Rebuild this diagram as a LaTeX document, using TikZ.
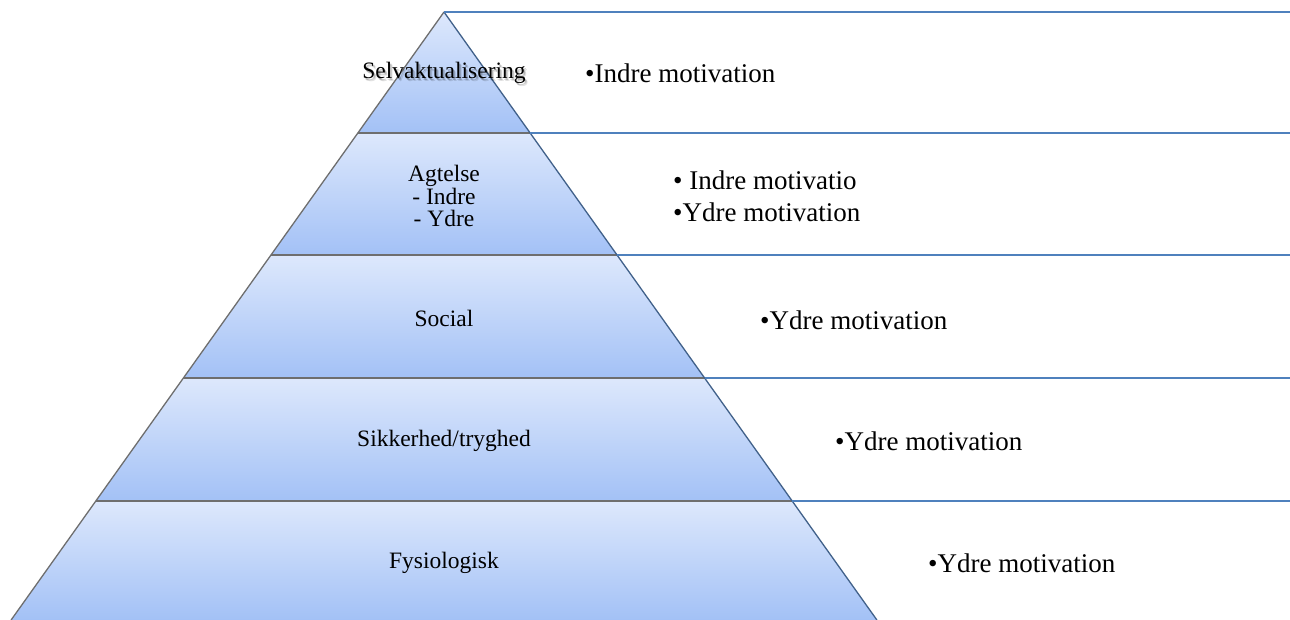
\documentclass[tikz,border=0pt]{standalone}
\usepackage{fontspec}
\setmainfont{Liberation Serif}
\usetikzlibrary{positioning}
\definecolor{layertop}{HTML}{DDE8FC}
\definecolor{layerbot}{HTML}{A3C1F6}
\definecolor{rulecol}{HTML}{4F81BD}
\definecolor{edgecol}{HTML}{6E6E6E}
\definecolor{rightcol}{HTML}{41618A}

\begin{document}
\begin{tikzpicture}[x=1pt,y=-1pt]
        \useasboundingbox (0,0) rectangle (1290,620);
        \foreach \y [count=\i from 0] in {12,133,255,378,501,620}{
          \coordinate (l\i) at ({444-0.712*(\y-12)},\y);
          \coordinate (r\i) at ({444+0.712*(\y-12)},\y);
          \coordinate (e\i) at (1290,\y);
        }
        \foreach \i [evaluate=\i as \j using int(\i+1)] in {0,...,4}
          \shade[top color=layertop,bottom color=layerbot] (l\i) -- (r\i) -- (r\j) -- (l\j) -- cycle;
        \foreach \i in {1,...,4}
          \draw [edgecol, line width=2pt] (l\i) -- (r\i);
        \draw [edgecol, line width=1.3pt] (l5) -- (l0);
        \draw [rightcol, line width=1.3pt] (r0) -- (r5);
        \foreach \i in {0,...,4}
          \draw [rulecol, line width=2pt] (r\i) -- (e\i);
        \begin{scope}[every node/.style={font=\fontsize{23.5}{22.5}\selectfont,align=center}]
        \node [black, opacity=0.12] at (446.5,75.5) {Selvaktualisering};
        \node [black, opacity=0.2] at (445.5,74.5) {Selvaktualisering};
        \node (s5) at (444,73) {Selvaktualisering};
        \node (s4) at (444,196) {Agtelse\\- Indre\\- Ydre};
        \node (s3) at (444,318) {Social};
        \node (s2) at (444,441) {Sikkerhed/tryghed};
        \node (s1) at (444,563) {Fysiologisk};
        \end{scope}
        \begin{scope}[every node/.style={font=\fontsize{27}{31}\selectfont,anchor=west,inner sep=0pt}]
        \node (m5) at (585,73) {•Indre motivation};
        \node (m4a) at (673,180) {• Indre motivatio};
        \node (m4b) at (673,212) {•Ydre motivation};
        \node (m3) at (760,320) {•Ydre motivation};
        \node (m2) at (835,441) {•Ydre motivation};
        \node (m1) at (928,563) {•Ydre motivation};
        \end{scope}
    \end{tikzpicture}
\end{document}
